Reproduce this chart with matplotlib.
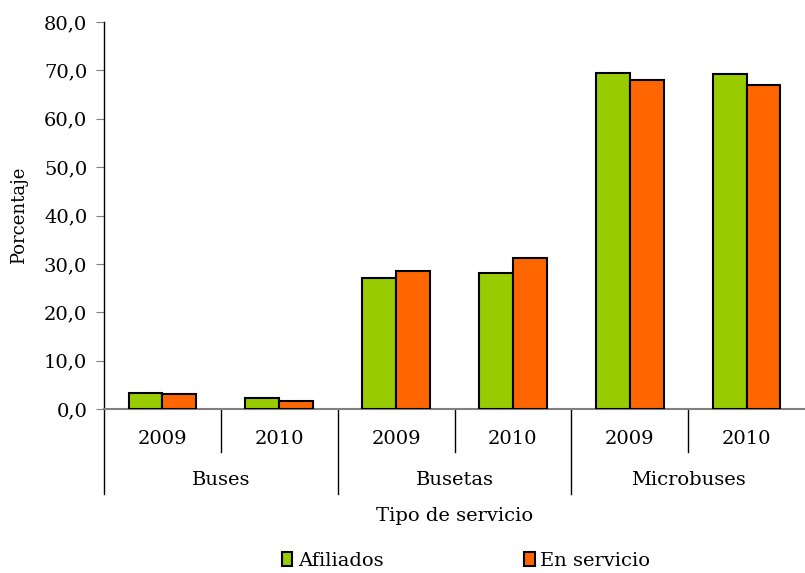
import matplotlib
matplotlib.use("Agg")
import matplotlib.pyplot as plt
from matplotlib.patches import Patch

# data
groups = ["Buses", "Busetas", "Microbuses"]
years = ["2009", "2010"]
afiliados = [3.3, 2.3, 27.1, 28.2, 69.5, 69.2]
en_servicio = [3.2, 1.7, 28.5, 31.2, 68.1, 66.9]
yticks = [0, 10, 20, 30, 40, 50, 60, 70, 80]

green = "#99CC00"
orange = "#FF6600"
grey = "#808080"

plt.rcParams["font.family"] = ["DejaVu Serif"]
plt.rcParams["font.size"] = 14

fig = plt.figure(figsize=(8.05, 5.73), dpi=100)
W, H = 805, 573
left, right, top, bottom = 104, 805, 22, 409
ax = fig.add_axes([left / W, 1 - bottom / H, (right - left) / W, (bottom - top) / H])

n = len(afiliados)
xs = [i + 0.5 for i in range(n)]
bw = 0.29
ax.bar([x - bw / 2 for x in xs], afiliados, bw, color=green, edgecolor="black", linewidth=1.5, zorder=3)
ax.bar([x + bw / 2 for x in xs], en_servicio, bw, color=orange, edgecolor="black", linewidth=1.5, zorder=3)

ax.set_xlim(0, n)
ax.set_ylim(0, 80)
ax.set_yticks(yticks)
ax.set_yticklabels([f"{v:.1f}".replace(".", ",") for v in yticks], fontsize=14)
ax.tick_params(axis="y", direction="out", length=6, color=grey, pad=6)
ax.set_xticks([])
for s in ["top", "right"]:
    ax.spines[s].set_visible(False)
ax.spines["left"].set_color("black")
ax.spines["left"].set_linewidth(1)
ax.spines["bottom"].set_color(grey)
ax.spines["bottom"].set_linewidth(1.5)
ax.set_ylabel("Porcentaje", fontsize=13)
ax.yaxis.set_label_coords(-(left - 28) / (right - left), 0.5)

# two-level category axis below the plot
tr = ax.get_xaxis_transform()
h_px = bottom - top
year_depth = (452 - bottom) / h_px
group_depth = (494 - bottom) / h_px
for i in range(n):
    depth = group_depth if i % 2 == 0 else year_depth
    ax.plot([i, i], [0, -depth], transform=tr, color="black", lw=1, clip_on=False)
for i, x in enumerate(xs):
    ax.text(x, -(439 - bottom) / h_px, years[i % 2], transform=tr,
            ha="center", va="center", fontsize=14)
for g, name in enumerate(groups):
    ax.text(2 * g + 1, -(480 - bottom) / h_px, name, transform=tr,
            ha="center", va="center", fontsize=14)
ax.text(0.5, -(516 - bottom) / h_px, "Tipo de servicio", transform=ax.transAxes,
        ha="center", va="center", fontsize=14)

handles = [Patch(facecolor=green, edgecolor="black", linewidth=1.5),
           Patch(facecolor=orange, edgecolor="black", linewidth=1.5)]
fig.legend(handles, ["Afiliados", "En servicio"], loc="center", ncol=2,
           bbox_to_anchor=(466 / W, 1 - 561 / H), frameon=False, fontsize=14,
           handlelength=0.55, handleheight=0.7, handletextpad=0.3, columnspacing=7.2,
           borderpad=0.2)

fig.savefig("out.png", dpi=100)
